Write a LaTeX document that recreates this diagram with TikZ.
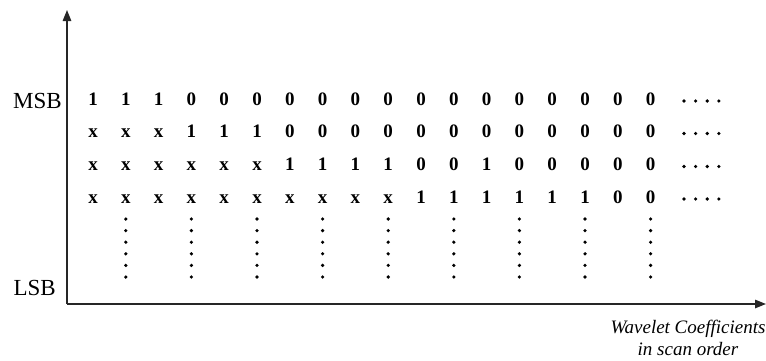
\documentclass[tikz,border=0pt]{standalone}
\usepackage{fontspec}
\setmainfont{Liberation Serif}
\usetikzlibrary{arrows.meta}
\tikzset{
  axis/.style={line width=1.4pt, draw=black!85, -{Triangle[length=11pt,width=8.5pt]}},
  bit/.style={font=\fontsize{19}{22}\selectfont\bfseries, inner sep=0pt, anchor=base},
  lbl/.style={font=\fontsize{23}{26}\selectfont, inner sep=0pt, anchor=base east},
  dotmark/.style={fill=black, draw=none},
  captext/.style={font=\fontsize{19}{22}\selectfont\itshape, align=center, inner sep=0pt, anchor=base}
}
\begin{document}
\begin{tikzpicture}[x=1pt,y=1pt]
\useasboundingbox (0,0) rectangle (766,360);
% axes
\coordinate (origin) at (67,56);
\coordinate (ytop) at (67,350);
\coordinate (xend) at (766,56);
\draw[axis] (origin) -- (ytop);
\draw[axis] (origin) -- (xend);
% labels
\node[lbl] (msb) at (62,252) {MSB};
\node[lbl] (lsb) at (56,65) {LSB};
% bit rows
\foreach \row/\yy/\bits in {
  1/255/{1,1,1,0,0,0,0,0,0,0,0,0,0,0,0,0,0,0},
  2/222.5/{x,x,x,1,1,1,0,0,0,0,0,0,0,0,0,0,0,0},
  3/189.5/{x,x,x,x,x,x,1,1,1,1,0,0,1,0,0,0,0,0},
  4/157/{x,x,x,x,x,x,x,x,x,x,1,1,1,1,1,1,0,0}}{
  \foreach \b [count=\c] in \bits {
    \node[bit] (r\row c\c) at ({93+32.8*(\c-1)},\yy) {\b};
  }
  \foreach \k in {0,...,3}{
    \fill[dotmark] ({684+11.6*\k},\yy+4) circle (1.8);
  }
}
% vertical dots
\foreach \c in {2,4,...,18}{
  \foreach \k in {0,...,5}{
    \fill[dotmark] ({93+32.8*(\c-1)},{141-11.6*\k}) circle (1.8);
  }
}
% caption
\node[captext] (caption) at (688,5) {Wavelet Coefficients\\in scan order};
\end{tikzpicture}
\end{document}
